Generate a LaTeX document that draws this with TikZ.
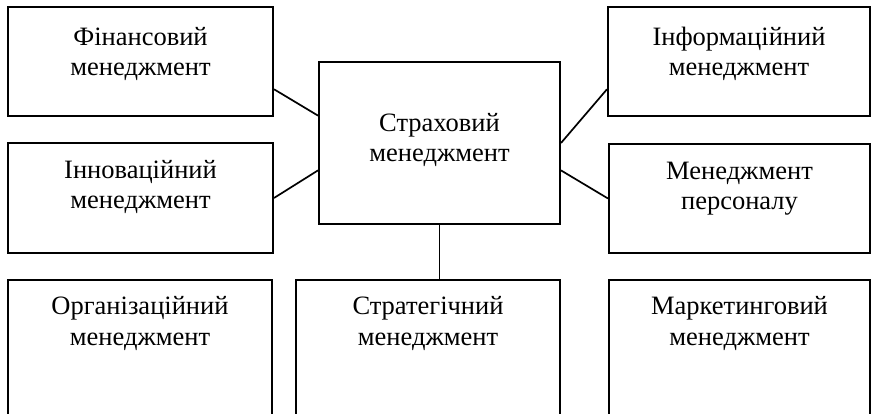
\documentclass[tikz,border=0pt]{standalone}
\usepackage{fontspec}
\setmainfont{Liberation Serif}
\usetikzlibrary{calc}
\begin{document}
\begin{tikzpicture}[x=1pt,y=-1pt,
  box/.style={draw=black, line width=2pt, rectangle, anchor=north west, inner sep=0pt, fill=white},
  lbl/.style={anchor=base, align=center, inner sep=0pt, font=\fontsize{26.5}{30.5}\selectfont},
  link/.style={draw=black, line width=1.7pt}]
\useasboundingbox (0,0) rectangle (871,414);
\clip (0,0) rectangle (871,414);
\fill[white] (0,0) rectangle (871,414);

% frames
\node[box, minimum width=265pt, minimum height=109pt] (fin) at (7,6) {};
\node[box, minimum width=265pt, minimum height=110pt] (inn) at (7,142) {};
\node[box, minimum width=262pt, minimum height=109pt] (inf) at (607,6) {};
\node[box, minimum width=261pt, minimum height=109pt] (per) at (608,143) {};
\node[box, minimum width=241pt, minimum height=162pt] (ins) at (318,61) {};
\node[box, minimum width=264pt, minimum height=160pt] (org) at (7,279) {};
\node[box, minimum width=264pt, minimum height=160pt] (str) at (295,279) {};
\node[box, minimum width=261pt, minimum height=160pt] (mar) at (608,279) {};

% captions (anchored at the baseline of the second line)
\node[lbl] (tfin) at ($(fin.north)+(0,70)$) {Фінансовий\\менеджмент};
\node[lbl] (tinn) at ($(inn.north)+(0,67)$) {Інноваційний\\менеджмент};
\node[lbl] (tinf) at ($(inf.north)+(0,70)$) {Інформаційний\\менеджмент};
\node[lbl] (tper) at ($(per.north)+(0,67)$) {Менеджмент\\персоналу};
\node[lbl] (tins) at ($(ins.north)+(0,101)$) {Страховий\\менеджмент};
\node[lbl] (torg) at ($(org.north)+(0,66)$) {Організаційний\\менеджмент};
\node[lbl] (tstr) at ($(str.north)+(0,66)$) {Стратегічний\\менеджмент};
\node[lbl] (tmar) at ($(mar.north)+(0,66)$) {Маркетинговий\\менеджмент};

% connectors
\draw[link] ($(fin.north east)!0.75!(fin.south east)$) -- ($(ins.north west)!0.333!(ins.south west)$);
\draw[link] (inn.east) -- ($(ins.north west)!0.667!(ins.south west)$);
\draw[link] ($(inf.north west)!0.75!(inf.south west)$) -- (ins.east);
\draw[link] (per.west) -- ($(ins.north east)!0.667!(ins.south east)$);
\draw[link] (ins.south) -- (ins.south |- str.north);
\end{tikzpicture}
\end{document}
